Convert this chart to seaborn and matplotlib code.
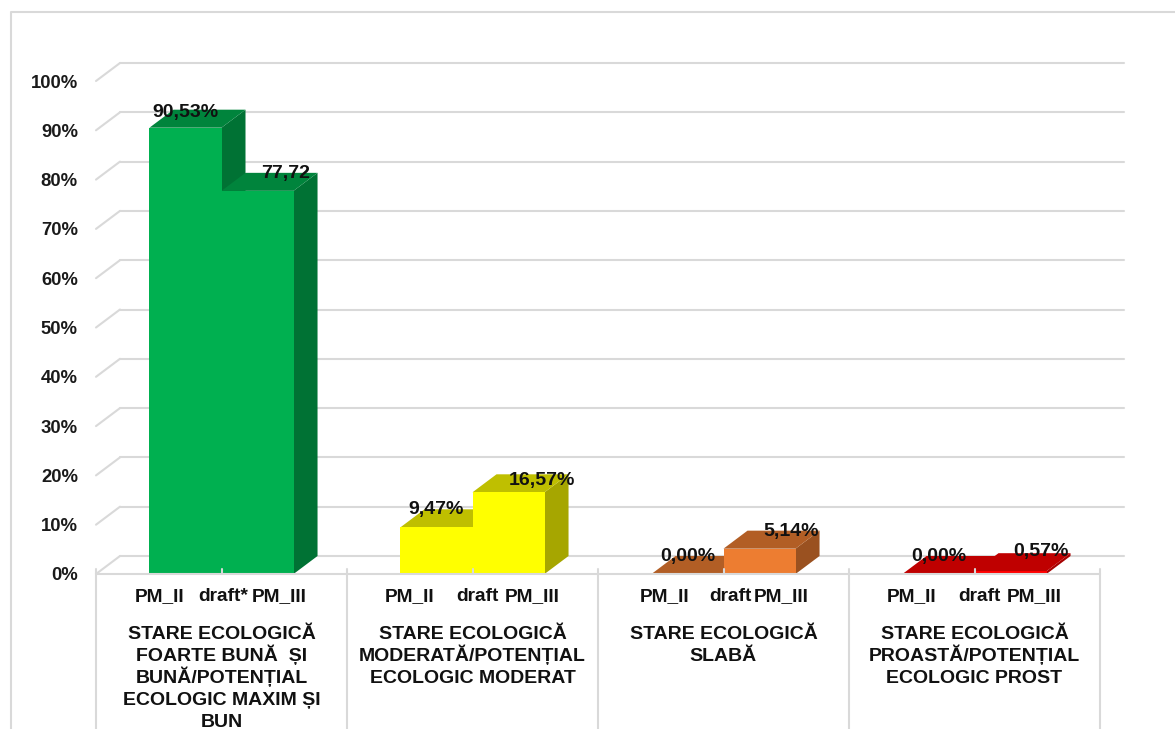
import seaborn as sns
import pandas as pd
import matplotlib.pyplot as plt
from matplotlib.lines import Line2D
from matplotlib.patches import Polygon
from matplotlib.colors import to_rgb

W, H = 1175, 729

categories = [
    "STARE ECOLOGICĂ\nFOARTE BUNĂ  ȘI\nBUNĂ/POTENȚIAL\nECOLOGIC MAXIM ȘI\nBUN",
    "STARE ECOLOGICĂ\nMODERATĂ/POTENȚIAL\nECOLOGIC MODERAT",
    "STARE ECOLOGICĂ\nSLABĂ",
    "STARE ECOLOGICĂ\nPROASTĂ/POTENȚIAL\nECOLOGIC PROST",
]
pm_ii = [90.53, 9.47, 0.00, 0.00]
pm_iii = [77.72, 16.57, 5.14, 0.57]
pm_ii_labels = ["90,53%", "9,47%", "0,00%", "0,00%"]
pm_iii_labels = ["77,72", "16,57%", "5,14%", "0,57%"]
draft_labels = ["draft*", "draft", "draft", "draft"]
colors = ["#00B050", "#FFFF00", "#ED7D31", "#FF0000"]
yticks = list(range(0, 101, 10))

# 3d look: how far the back wall sits from the front plane
DEPTH_X = 24 / 251
DEPTH_Y = 18 / 4.93
GRID = "#D9D9D9"

sns.set_style("white")
plt.rcParams["font.family"] = ["Liberation Sans", "DejaVu Sans"]
plt.rcParams["font.weight"] = "bold"


def shade(color, k):
    return tuple(c * k for c in to_rgb(color))


df = pd.DataFrame(
    {
        "cat": categories * 2,
        "value": pm_ii + pm_iii,
        "series": ["PM_II"] * 4 + ["PM_III"] * 4,
    }
)

fig = plt.figure(figsize=(W / 100, H / 100), dpi=100)
ax = fig.add_axes([96 / W, 1 - 574 / H, 1004 / W, 493 / H])

sns.barplot(
    data=df, x="cat", y="value", hue="series", width=0.574, gap=0,
    legend=False, saturation=1, ax=ax, zorder=5,
)
ax.set_xlim(-0.5, 3.5)
ax.set_ylim(0, 100)
ax.set(xlabel="", ylabel="")
sns.despine(ax=ax, left=True, bottom=True, top=True, right=True)
ax.patch.set_alpha(0)

# back wall grid and the slanted bit on the left
for v in yticks:
    ax.plot([-0.5 + DEPTH_X, 3.5 + DEPTH_X], [v + DEPTH_Y] * 2, color=GRID, lw=1.5, clip_on=False, zorder=1)
    ax.plot([-0.5, -0.5 + DEPTH_X], [v, v + DEPTH_Y], color=GRID, lw=1.5, clip_on=False, zorder=1)

# side and top faces, taken from the bars seaborn made
for s, container in enumerate(ax.containers):
    for i, bar in enumerate(container):
        bar.set_facecolor(colors[i])
        bar.set_edgecolor("none")
        x0, x1, h = bar.get_x(), bar.get_x() + bar.get_width(), bar.get_height()
        top = [(x0, h), (x1, h), (x1 + DEPTH_X, h + DEPTH_Y), (x0 + DEPTH_X, h + DEPTH_Y)]
        side = [(x1, 0), (x1 + DEPTH_X, DEPTH_Y), (x1 + DEPTH_X, h + DEPTH_Y), (x1, h)]
        ax.add_patch(Polygon(side, fc=shade(colors[i], 0.65), ec="none", clip_on=False, zorder=2 + s))
        ax.add_patch(Polygon(top, fc=shade(colors[i], 0.75), ec="none", clip_on=False, zorder=2 + s))

# floor line, category dividers, little ticks between the bars
trans = ax.get_xaxis_transform()
ax.plot([-0.5, 3.5], [0, 0], color=GRID, lw=1.5, clip_on=False, zorder=6)
for k in range(5):
    ax.plot([k - 0.5, k - 0.5], [0.01, -0.33], transform=trans, color=GRID, lw=1.5, clip_on=False, zorder=6)
for k in range(4):
    ax.plot([k, k], [0.01, 0], transform=trans, color=GRID, lw=1.5, clip_on=False, zorder=6)

ax.set_yticks(yticks, [f"{v}%" for v in yticks])
ax.set_xticks([])
ax.tick_params(axis="y", length=0, pad=13, labelsize=13.3, labelcolor="#1a1a1a")
for lab in ax.get_yticklabels():
    lab.set_fontweight("bold")

# category names line by line, mpl spaces lines unevenly when they have diacritics
for k, cat in enumerate(categories):
    for n, line in enumerate(cat.split("\n")):
        ax.annotate(
            line, (k, 0), xycoords=trans,
            xytext=(0, -(65 + 22 * n) * 0.72), textcoords="offset points",
            ha="center", va="baseline", fontsize=14, color="#111111",
            annotation_clip=False,
        )

# value labels, pixel offsets from the front top edge of each bar to the text baseline
pm_ii_offset = [(0, 11), (0, 13), (0, 13.5), (0, 13.5)]
pm_iii_offset = [(28, 13), (33, 7), (32, 13), (30, 15.5)]
for container, labels, offs in zip(ax.containers, [pm_ii_labels, pm_iii_labels], [pm_ii_offset, pm_iii_offset]):
    for bar, text, (ox, oy) in zip(container, labels, offs):
        ax.annotate(
            text, (bar.get_x() + bar.get_width() / 2, bar.get_height()),
            xytext=(ox * 0.72, oy * 0.72), textcoords="offset points",
            ha="center", va="baseline", fontsize=14, color="#111111", zorder=7,
            annotation_clip=False,
        )

# series names under the bars, they do not sit evenly in the original
name_x = [(160, 223, 279), (410, 477, 532), (665, 730, 781), (912, 979, 1034)]
for xs, d in zip(name_x, draft_labels):
    for x, name in zip(xs, ["PM_II", d, "PM_III"]):
        fig.text(x / W, 1 - 601 / H, name, ha="center", va="baseline", fontsize=13.8, color="#111111")

# outer chart frame, only top and left are in the crop
fig.add_artist(Line2D([10.5 / W, 10.5 / W, 1], [0, 1 - 11.5 / H, 1 - 11.5 / H], transform=fig.transFigure,
                      color=GRID, lw=1.5))

plt.savefig("out.png", dpi=100)
